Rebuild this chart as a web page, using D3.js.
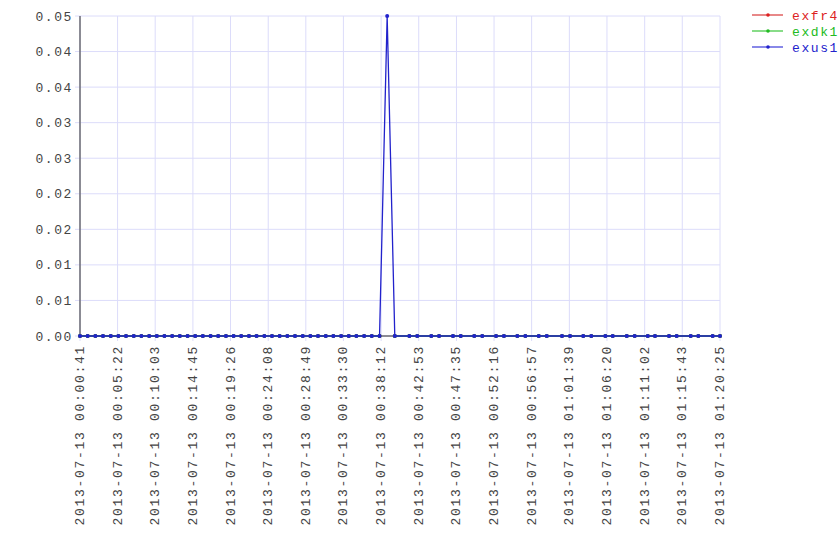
<!DOCTYPE html>
<html><head><meta charset="utf-8">
<script src="https://cdn.jsdelivr.net/npm/d3@7"></script>
<style>body{margin:0;background:#fff}svg{display:block}</style>
</head><body>
<script>
const times = ["00:00:41","00:01:38","00:02:36","00:03:33","00:04:31","00:05:28","00:06:25","00:07:23","00:08:20","00:09:18",
"00:10:15","00:11:12","00:12:10","00:13:07","00:14:05","00:15:02","00:15:59","00:16:57","00:17:54","00:18:52",
"00:19:49","00:20:46","00:21:44","00:22:41","00:23:39","00:24:36","00:25:33","00:26:31","00:27:28","00:28:26",
"00:29:23","00:30:20","00:31:18","00:32:15","00:33:13","00:34:10","00:35:07","00:36:05","00:37:02","00:38:00",
"00:38:57","00:39:54","00:41:43","00:42:42","00:44:27","00:45:25","00:47:09","00:48:07","00:49:48","00:50:48",
"00:52:31","00:53:30","00:55:10","00:56:10","00:57:50","00:58:50","01:00:44","01:01:44","01:03:23","01:04:23",
"01:06:08","01:07:03","01:08:48","01:09:47","01:11:25","01:12:19","01:14:04","01:15:01","01:16:46","01:17:43",
"01:19:30","01:20:25"];
const datePrefix = "2013-07-13";
const exfr4 = [0,0,0,0,0,0,0,0,0,0, 0,0,0,0,0,0,0,0,0,0, 0,0,0,0,0,0,0,0,0,0, 0,0,0,0,0,0,0,0,0,0,
 null,0,0,0,0,0,0,0,0,0, 0,0,0,0,0,0,0,0,0,0, 0,0,0,0,0,0,0,0,0,0, 0,0];
const exdk1 = [0,0,0,0,0,0,0,0,0,0, 0,0,0,0,0,0,0,0,0,0, 0,0,0,0,0,0,0,0,0,0, 0,0,0,0,0,0,0,0,0,0,
 null,0,0,0,0,0,0,0,0,0, 0,0,0,0,0,0,0,0,0,0, 0,0,0,0,0,0,0,0,0,0, 0,0];
const exus1 = [0,0,0,0,0,0,0,0,0,0, 0,0,0,0,0,0,0,0,0,0, 0,0,0,0,0,0,0,0,0,0, 0,0,0,0,0,0,0,0,0,0,
 0.045,0,0,0,0,0,0,0,0,0, 0,0,0,0,0,0,0,0,0,0, 0,0,0,0,0,0,0,0,0,0, 0,0];
const seriesNames = ["exfr4","exdk1","exus1"];
const seriesColors = ["#dd2222","#22bb22","#2222cc"];
const legendColors = ["#e06060","#60d060","#6060e0"];
const xTickLabels = ["00:00:41","00:05:22","00:10:03","00:14:45","00:19:26","00:24:08","00:28:49","00:33:30","00:38:12",
"00:42:53","00:47:35","00:52:16","00:56:57","01:01:39","01:06:20","01:11:02","01:15:43","01:20:25"];
const yTickValues = [0,0.005,0.01,0.015,0.02,0.025,0.03,0.035,0.04,0.045];
const yTickLabels = ["0.00","0.01","0.01","0.02","0.02","0.03","0.03","0.04","0.04","0.05"];

const W=840,H=560, m={l:80,r:120,t:16,b:224};
const parse = d3.utcParse("%Y-%m-%d %H:%M:%S");
const xs = times.map(t=>parse(datePrefix+" "+t));
const allVals = [exfr4,exdk1,exus1];
const x = d3.scaleUtc().domain(d3.extent(xs)).range([m.l, W-m.r]);
const y = d3.scaleLinear().domain([0, d3.max(yTickValues)]).range([H-m.b, m.t]);
const svg = d3.select("body").append("svg").attr("width",W).attr("height",H);
const font = "'Liberation Mono', 'DejaVu Sans Mono', monospace";
const grid="#dcdcfa";

const xTicks = xTickLabels.map(t=>parse(datePrefix+" "+t));
svg.append("g").selectAll("line").data(yTickValues).join("line")
 .attr("x1",m.l-5).attr("x2",W-m.r).attr("y1",d=>y(d)).attr("y2",d=>y(d)).attr("stroke",grid);
svg.append("g").selectAll("line").data(xTicks).join("line")
 .attr("x1",d=>x(d)).attr("x2",d=>x(d)).attr("y1",m.t).attr("y2",H-m.b+5).attr("stroke",grid);
svg.append("line").attr("x1",m.l).attr("x2",m.l).attr("y1",m.t).attr("y2",H-m.b).attr("stroke","#6a6a72").attr("stroke-width",1.5);
svg.append("line").attr("x1",m.l).attr("x2",W-m.r).attr("y1",H-m.b).attr("y2",H-m.b).attr("stroke","#6a6a72").attr("stroke-width",1.5);
svg.append("g").selectAll("text").data(yTickValues).join("text")
 .attr("x",m.l-7).attr("y",d=>y(d)).attr("dy","0.35em").attr("text-anchor","end")
 .attr("font-family",font).attr("font-size",13).attr("letter-spacing",1.6).attr("fill","#444")
 .text((d,i)=>yTickLabels[i]);
svg.append("g").selectAll("text").data(xTicks).join("text")
 .attr("transform",d=>`translate(${x(d)+4},${H-m.b+9}) rotate(-90)`)
 .attr("text-anchor","end").attr("font-family",font).attr("font-size",13).attr("letter-spacing",1.7).attr("fill","#444")
 .text((d,i)=>datePrefix+" "+xTickLabels[i]);
const line = d3.line().defined(d=>d!==null).x((d,i)=>x(xs[i])).y(d=>y(d));
allVals.forEach((vals,k)=>{
  const g = svg.append("g");
  g.append("path").datum(vals).attr("d",line).attr("fill","none").attr("stroke",seriesColors[k]).attr("stroke-width",1.3);
  g.selectAll("circle").data(vals.map((v,i)=>({v,i})).filter(d=>d.v!==null)).join("circle")
   .attr("cx",d=>x(xs[d.i])).attr("cy",d=>y(d.v)).attr("r",2).attr("fill",seriesColors[k]);
});
seriesNames.forEach((n,k)=>{
  const yy = 15 + k*16;
  svg.append("line").attr("x1",752).attr("x2",783).attr("y1",yy).attr("y2",yy).attr("stroke",legendColors[k]).attr("stroke-width",1.5);
  svg.append("circle").attr("cx",768).attr("cy",yy).attr("r",1.8).attr("fill",seriesColors[k]);
  svg.append("text").attr("x",792).attr("y",yy).attr("dy","0.35em").attr("font-family",font).attr("font-size",13)
   .attr("letter-spacing",1.6).attr("fill",seriesColors[k]).text(n);
});
</script>
</body></html>
